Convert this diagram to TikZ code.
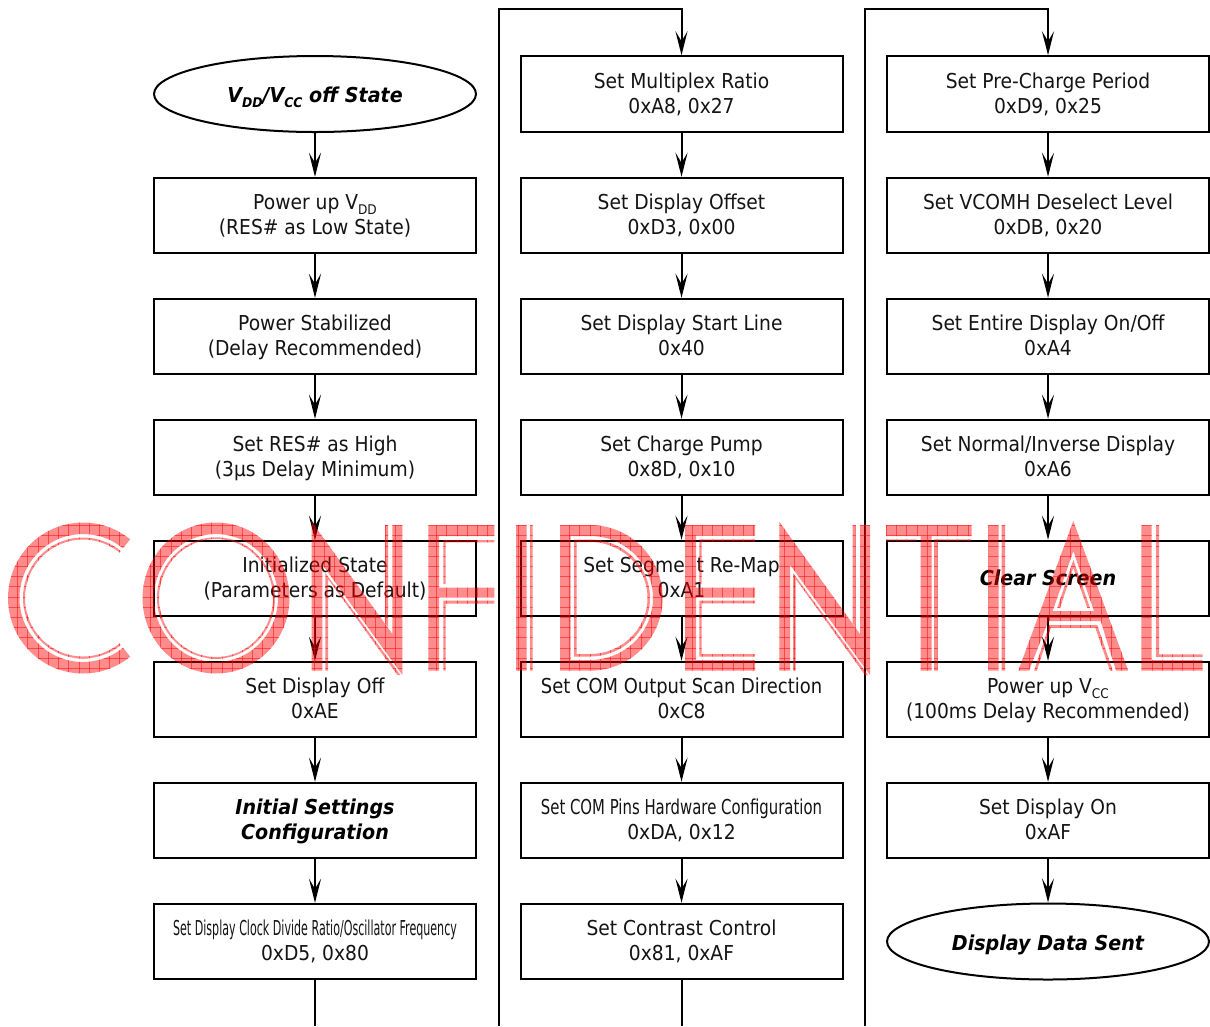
\documentclass[tikz,border=0pt]{standalone}
\usepackage{fontspec}
\usetikzlibrary{shapes.geometric,arrows.meta}
\setmainfont{DejaVu Sans}[FakeStretch=0.91]
\newfontfamily\boldit{DejaVu Sans Bold Oblique}[FakeStretch=0.93]
\newfontfamily\narrowa{DejaVu Sans}[FakeStretch=0.54]
\newfontfamily\narrowb{DejaVu Sans}[FakeStretch=0.725]
\newfontfamily\narrowc{DejaVu Sans}[FakeStretch=0.873]
\newcommand{\lowtxt}[1]{\raisebox{-0.45ex}{\fontsize{10}{10}\selectfont #1}}
\newcommand{\lineprop}{\rule[-4.5pt]{0pt}{18.75pt}}
\newcommand{\capprop}{\rule[-4.5pt]{0pt}{21.75pt}}
\newcommand{\twolines}[2]{\lineprop #1\\#2\lineprop}
\newcommand{\wmring}[4]{plot[domain=0:360,samples=100] ({#1+#3*cos(\x)},{#2+#4*sin(\x)}) -- cycle}
\newcommand{\wmcarc}[3]{plot[domain=51:309,samples=80] ({#1+#2*cos(\x)},{598+#3*sin(\x)}) -- plot[domain=309:51,samples=80] ({#1+(#2-11.5)*cos(\x)},{598+(#3-11.5)*sin(\x)}) -- cycle
 plot[domain=51:309,samples=80] ({#1+(#2-15)*cos(\x)},{598+(#3-15)*sin(\x)}) -- plot[domain=309:51,samples=80] ({#1+(#2-17)*cos(\x)},{598+(#3-17)*sin(\x)}) -- cycle}
% N letter, #1 = x shift from the second N
\newcommand{\wmN}[1]{
 ({#1+779.3},521.7) -- ({#1+860},634) -- ({#1+860},525) -- ({#1+870},525) -- ({#1+870},675) -- ({#1+792.6},568.3) -- ({#1+790},565) -- ({#1+790},670.7) -- ({#1+779.3},670.7) -- cycle
 ({#1+793},573) -- ({#1+868},675) -- ({#1+865},675) -- ({#1+795.7},579) -- ({#1+795.7},670.7) -- ({#1+793},670.7) -- cycle
 ({#1+852.7},525) -- ({#1+855.7},525) -- ({#1+855.7},627) -- ({#1+852.7},623) -- cycle}
\newcommand{\wmletters}{
 \wmcarc{83}{75}{75.5}
 \wmring{216}{598}{73.5}{75.5} \wmring{216}{598}{62}{64} \wmring{216}{598}{59}{60.7} \wmring{216}{598}{57}{59}
 \wmN{-467.6}
 % F
 (428.3,525) -- (494.3,525) -- (494.3,536) -- (439,536) -- (439,587.7) -- (494.3,587.7) -- (494.3,597.3) -- (439,597.3) -- (439,670.7) -- (428.3,670.7) -- cycle
 (443.3,540) -- (494.3,540) -- (494.3,542.3) -- (445.7,542.3) -- (445.7,584) -- (443.3,584) -- cycle
 (443.3,600.7) -- (494.3,600.7) -- (494.3,603.5) -- (445.7,603.5) -- (445.7,670.7) -- (443.3,670.7) -- cycle
 % I
 (516,525) rectangle (526.7,670.7)
 (530,525) rectangle (532.7,670.7)
 % D
 (560,525) -- (590,525) -- plot[domain=-90:90,samples=60] ({590+72.7*cos(\x)},{597.85+72.85*sin(\x)}) -- (560,670.7) -- cycle
 (570.7,536) -- (590,536) -- plot[domain=-90:90,samples=60] ({590+63*cos(\x)},{598+62*sin(\x)}) -- (570.7,660) -- cycle
 (574,539.5) -- (590,539.5) -- plot[domain=-90:90,samples=60] ({590+60*cos(\x)},{598+58.5*sin(\x)}) -- (574,656.5) -- cycle
 (576.7,542) -- (590,542) -- plot[domain=-90:90,samples=60] ({590+57.5*cos(\x)},{598+56*sin(\x)}) -- (576.7,654) -- cycle
 % E
 (685,525) -- (755,525) -- (755,535.7) -- (696,535.7) -- (696,587.7) -- (755,587.7) -- (755,597.3) -- (696,597.3) -- (696,660) -- (755,660) -- (755,670.7) -- (685,670.7) -- cycle
 (699.3,539.3) -- (755,539.3) -- (755,541.7) -- (701.7,541.7) -- (701.7,584) -- (699.3,584) -- cycle
 (699.3,600.7) -- (755,600.7) -- (755,603.3) -- (701.7,603.3) -- (701.7,654) -- (755,654) -- (755,656.7) -- (699.3,656.7) -- cycle
 \wmN{0}
 % T
 (886,525) -- (971.7,525) -- (971.7,536) -- (931.7,536) -- (931.7,670.7) -- (920.7,670.7) -- (920.7,536) -- (886,536) -- cycle
 (886,539.3) rectangle (916.7,541)
 (934,539.3) -- (971.7,539.3) -- (971.7,541) -- (937.7,541) -- (937.7,670.7) -- (934,670.7) -- cycle
 % I
 (988.3,525) rectangle (998.3,670.7)
 (1001.7,525) rectangle (1005,670.7)
 % A
 (1073.3,521) -- (1128.3,670.7) -- (1116,670.7) -- (1100.7,621) -- (1048.3,621) -- (1029,670.7) -- (1018.3,670.7) -- cycle
 (1073.3,551) -- (1052.7,611) -- (1094,611) -- cycle
 (1073.3,560) -- (1090,608) -- (1087.3,608) -- (1073.3,567.7) -- (1060,608) -- (1057.3,608) -- cycle
 (1049.3,625) -- (1097.3,625) -- (1112.7,670.7) -- (1110,670.7) -- (1095.3,627.5) -- (1051,627.5) -- (1036.7,670.7) -- (1034,670.7) -- cycle
 % L
 (1141.7,525) -- (1151.7,525) -- (1151.7,660) -- (1202.7,660) -- (1202.7,670.7) -- (1141.7,670.7) -- cycle
 (1156,525) -- (1159,525) -- (1159,654.3) -- (1202.7,654.3) -- (1202.7,657) -- (1156,657) -- cycle
}
\tikzset{
 stepbox/.style={draw=black,line width=1.5pt,rectangle,minimum width=241.5pt,minimum height=56.6pt,inner sep=0pt,
   align=center,font=\fontsize{15.4}{18.75}\selectfont,text=black!92},
 endcap/.style={draw=black,line width=1.5pt,ellipse,minimum width=241.5pt,minimum height=57pt,inner sep=0pt,
   align=center,font=\fontsize{15.4}{18.75}\boldit,text=black},
 emph/.style={font=\fontsize{15.4}{18.75}\boldit,text=black},
 flow/.style={draw=black,line width=1.5pt,-{Stealth[length=18pt,width=9pt,inset=7.5pt]}},
 plainline/.style={draw=black,line width=1.5pt},
}
\begin{document}
\begin{tikzpicture}[x=0.75pt,y=-0.75pt]
\useasboundingbox (0,0) rectangle (1210,1026);
\fill[white] (0,0) rectangle (1210,1026);
% column 1
\node[endcap] (a1) at (315,94) {\capprop V\lowtxt{DD}/V\lowtxt{CC} off State};
\node[stepbox] (a2) at (315,215.5) {\twolines{Power up V\lowtxt{DD}}{(RES\# as Low State)}};
\node[stepbox] (a3) at (315,336.5) {\twolines{Power Stabilized}{(Delay Recommended)}};
\node[stepbox] (a4) at (315,457.5) {\twolines{Set RES\# as High}{(3µs Delay Minimum)}};
\node[stepbox] (a5) at (315,578.5) {\twolines{Initialized State}{(Parameters as Default)}};
\node[stepbox] (a6) at (315,699.5) {\twolines{Set Display Off}{0xAE}};
\node[stepbox,emph] (a7) at (315,820.5) {\twolines{Initial Settings}{Configuration}};
\node[stepbox] (a8) at (315,941.5) {\twolines{{\narrowa Set Display Clock Divide Ratio/Oscillator Frequency}}{0xD5, 0x80}};
% column 2
\node[stepbox] (b1) at (681.5,94) {\twolines{Set Multiplex Ratio}{0xA8, 0x27}};
\node[stepbox] (b2) at (681.5,215.5) {\twolines{Set Display Offset}{0xD3, 0x00}};
\node[stepbox] (b3) at (681.5,336.5) {\twolines{Set Display Start Line}{0x40}};
\node[stepbox] (b4) at (681.5,457.5) {\twolines{Set Charge Pump}{0x8D, 0x10}};
\node[stepbox] (b5) at (681.5,578.5) {\twolines{Set Segme\phantom{n}t Re-Map}{0xA1}};
\node[stepbox] (b6) at (681.5,699.5) {\twolines{{\narrowc Set COM Output Scan Direction}}{0xC8}};
\node[stepbox] (b7) at (681.5,820.5) {\twolines{{\narrowb Set COM Pins Hardware Configuration}}{0xDA, 0x12}};
\node[stepbox] (b8) at (681.5,941.5) {\twolines{Set Contrast Control}{0x81, 0xAF}};
% column 3
\node[stepbox] (c1) at (1048,94) {\twolines{Set Pre-Charge Period}{0xD9, 0x25}};
\node[stepbox] (c2) at (1048,215.5) {\twolines{Set VCOMH Deselect Level}{0xDB, 0x20}};
\node[stepbox] (c3) at (1048,336.5) {\twolines{Set Entire Display On/Off}{0xA4}};
\node[stepbox] (c4) at (1048,457.5) {\twolines{Set Normal/Inverse Display}{0xA6}};
\node[stepbox,emph] (c5) at (1048,578.5) {\lineprop Clear Screen};
\node[stepbox] (c6) at (1048,699.5) {\twolines{Power up V\lowtxt{CC}}{(100ms Delay Recommended)}};
\node[stepbox] (c7) at (1048,820.5) {\twolines{Set Display On}{0xAF}};
\node[endcap] (c8) at (1048,941.5) {\capprop Display Data Sent};
% free ends
\coordinate (aout) at (315,1026);
\coordinate (bin) at (498.5,1026);
\coordinate (bturn) at (498.5,9);
\coordinate (bout) at (681.5,1026);
\coordinate (cin) at (865,1026);
\coordinate (cturn) at (865,9);
% connectors
\foreach \p/\q in {a1/a2,a2/a3,a3/a4,a4/a5,a5/a6,a6/a7,a7/a8,
                   b1/b2,b2/b3,b3/b4,b4/b5,b5/b6,b6/b7,b7/b8,
                   c1/c2,c2/c3,c3/c4,c4/c5,c5/c6,c6/c7,c7/c8}
  \draw[flow] (\p) -- (\q);
\draw[plainline] (a8) -- (aout);
\draw[plainline] (b8) -- (bout);
\draw[flow] (bin) -- (bturn) -| (b1);
\draw[flow] (cin) -- (cturn) -| (c1);
% watermark
\begin{scope}[even odd rule]
\clip \wmletters;
\fill[red,opacity=0.45] (0,510) rectangle (1210,680);
\foreach \k in {-9,...,108}
  \draw[red,opacity=0.5,line width=0.5pt] ({99.3+\k*10.22},515) -- ({99.3+\k*10.22},680);
\foreach \k in {-2,...,14}
  \draw[red,opacity=0.5,line width=0.5pt] (0,{535.7+\k*10.2}) -- (1210,{535.7+\k*10.2});
\end{scope}
\end{tikzpicture}
\end{document}
